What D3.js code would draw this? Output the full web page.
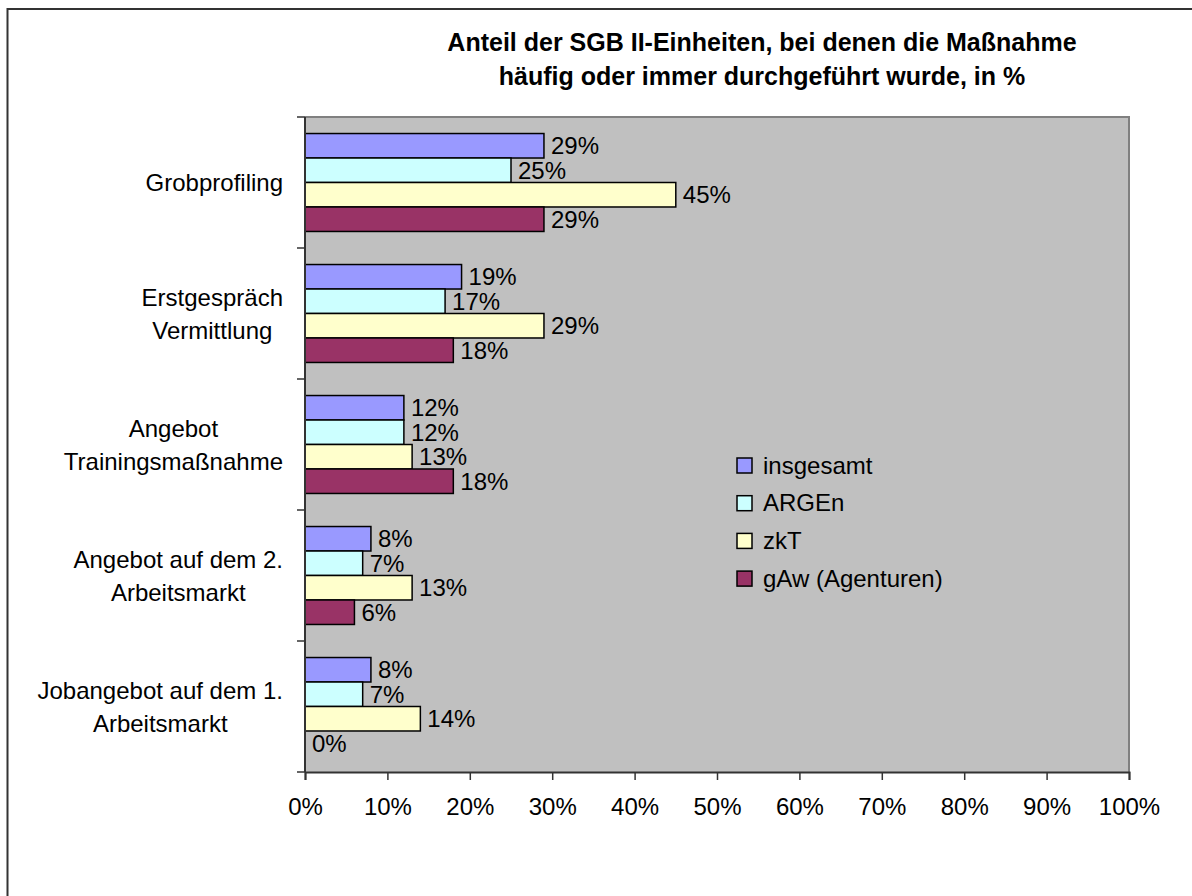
<!DOCTYPE html>
<html>
<head>
<meta charset="utf-8">
<script src="https://cdn.jsdelivr.net/npm/d3@7"></script>
<style>
  body { margin: 0; background: #fff; }
  svg { display: block; font-family: Arial, "Liberation Sans", sans-serif; }
</style>
</head>
<body>
<svg id="chart" width="1192" height="896"></svg>
<script>
// chart data
const categories = [
  ["Grobprofiling"],
  ["Erstgespräch", "Vermittlung"],
  ["Angebot", "Trainingsmaßnahme"],
  ["Angebot auf dem 2.", "Arbeitsmarkt"],
  ["Jobangebot auf dem 1.", "Arbeitsmarkt"]
];
const seriesNames = ["insgesamt", "ARGEn", "zkT", "gAw (Agenturen)"];
const insgesamt = [29, 19, 12, 8, 8];
const argen = [25, 17, 12, 7, 7];
const zkt = [45, 29, 13, 13, 14];
const gaw = [29, 18, 18, 6, 0];
const xTicks = [0, 10, 20, 30, 40, 50, 60, 70, 80, 90, 100];
const titleLines = [
  "Anteil der SGB II-Einheiten, bei denen die Maßnahme",
  "häufig oder immer durchgeführt wurde, in %"
];

const colors = ["#9999ff", "#ccffff", "#ffffcc", "#993366"];
const seriesValues = [insgesamt, argen, zkt, gaw];

const svg = d3.select("#chart");

// outer frame (cut off on the right and bottom)
svg.append("rect")
  .attr("x", 7.5).attr("y", 9)
  .attr("width", 1300).attr("height", 1000)
  .attr("fill", "none")
  .attr("stroke", "#333")
  .attr("stroke-width", 2);

const plot = { left: 305, top: 117, right: 1129, bottom: 772 };

// title
svg.append("g").selectAll("text")
  .data(titleLines)
  .join("text")
  .attr("x", 762)
  .attr("y", (d, i) => 51 + i * 34)
  .attr("text-anchor", "middle")
  .attr("font-size", "25px")
  .attr("font-weight", "bold")
  .text(d => d);

// scales
const x = d3.scaleLinear().domain([0, 100]).range([plot.left, plot.right]);
const y = d3.scaleBand()
  .domain(d3.range(categories.length))
  .range([plot.top, plot.bottom])
  .padding(0);
const ySub = d3.scaleBand()
  .domain(d3.range(seriesNames.length))
  .range([0, y.bandwidth()])
  .paddingInner(0)
  .paddingOuter(0.675);

// plot background
svg.append("rect")
  .attr("x", plot.left).attr("y", plot.top)
  .attr("width", plot.right - plot.left)
  .attr("height", plot.bottom - plot.top)
  .attr("fill", "#c0c0c0");

// plot border top/right in gray
svg.append("path")
  .attr("d", `M${plot.left},${plot.top}H${plot.right}V${plot.bottom}`)
  .attr("fill", "none")
  .attr("stroke", "#808080")
  .attr("stroke-width", 2);

// bars
const groups = svg.append("g").selectAll("g")
  .data(categories)
  .join("g")
  .attr("transform", (d, i) => `translate(0,${y(i)})`);

groups.each(function(cat, ci) {
  const g = d3.select(this);
  seriesValues.forEach((vals, si) => {
    const v = vals[ci];
    if (v > 0) {
      g.append("rect")
        .attr("x", x(0))
        .attr("y", ySub(si))
        .attr("width", x(v) - x(0))
        .attr("height", ySub.bandwidth())
        .attr("fill", colors[si])
        .attr("stroke", "#000")
        .attr("stroke-width", 1.5);
    }
    g.append("text")
      .attr("x", x(v) + 7)
      .attr("y", ySub(si) + ySub.bandwidth() / 2)
      .attr("dy", "0.36em")
      .attr("font-size", "24px")
      .attr("fill", "#000")
      .text(v + "%");
  });
});

// x axis
const xAxis = svg.append("g")
  .attr("transform", `translate(0,${plot.bottom})`)
  .call(d3.axisBottom(x).tickValues(xTicks).tickSize(8).tickPadding(18).tickFormat(d => d + "%"));
xAxis.select(".domain").attr("stroke", "#333").attr("stroke-width", 2);
xAxis.selectAll(".tick line").attr("stroke", "#333").attr("stroke-width", 1.5);
xAxis.selectAll("text").attr("font-size", "24px").attr("font-family", "Arial, 'Liberation Sans', sans-serif").attr("fill", "#000");

// y axis line with ticks at band boundaries
svg.append("line")
  .attr("x1", plot.left).attr("x2", plot.left)
  .attr("y1", plot.top).attr("y2", plot.bottom)
  .attr("stroke", "#333").attr("stroke-width", 2);
svg.append("g").selectAll("line")
  .data(d3.range(categories.length + 1))
  .join("line")
  .attr("x1", plot.left - 8).attr("x2", plot.left)
  .attr("y1", i => plot.top + i * y.step())
  .attr("y2", i => plot.top + i * y.step())
  .attr("stroke", "#333").attr("stroke-width", 1.5);

// category labels: block right-aligned, lines centered inside block
const labelRight = 283;
categories.forEach((lines, ci) => {
  const g = svg.append("g");
  const texts = g.selectAll("text")
    .data(lines)
    .join("text")
    .attr("font-size", "24px")
    .attr("text-anchor", "middle")
    .attr("dy", "0.36em")
    .attr("y", (d, i) => y(ci) + y.bandwidth() / 2 + (i - (lines.length - 1) / 2) * 33)
    .text(d => d);
  let maxW = 0;
  texts.each(function() { maxW = Math.max(maxW, this.getComputedTextLength()); });
  texts.attr("x", labelRight - maxW / 2);
});

// legend
const legend = svg.append("g").attr("transform", "translate(737,465)");
const items = legend.selectAll("g")
  .data(seriesNames)
  .join("g")
  .attr("transform", (d, i) => `translate(0,${i * 37.7})`);
items.append("rect")
  .attr("x", 0).attr("y", -7)
  .attr("width", 15).attr("height", 15)
  .attr("fill", (d, i) => colors[i])
  .attr("stroke", "#000")
  .attr("stroke-width", 1.5);
items.append("text")
  .attr("x", 26)
  .attr("dy", "0.36em")
  .attr("font-size", "24px")
  .text(d => d);
</script>
</body>
</html>
